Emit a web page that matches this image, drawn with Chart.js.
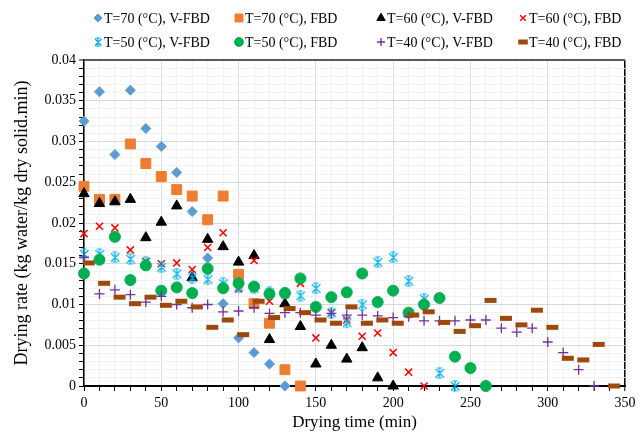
<!DOCTYPE html>
<html>
<head>
  <meta charset="UTF-8">
  <title>Drying rate</title>
  <script src="https://cdn.jsdelivr.net/npm/chart.js"></script>
  <style>
    body { margin: 0; background: #fff; }
    #wrap { width: 643px; height: 445px; position: relative; }
  </style>
</head>
<body>

  <div id="wrap"><canvas id="rateChart"></canvas></div>

  <script>
    // legend labels, in series order
    const seriesNames = [
      "T=70 (°C), V-FBD", "T=70 (°C), FBD", "T=60 (°C), V-FBD", "T=60 (°C), FBD",
      "T=50 (°C), V-FBD", "T=50 (°C), FBD", "T=40 (°C), V-FBD", "T=40 (°C), FBD"
    ];

    // drying time (min) for each series
    const time70v = [0, 10, 20, 30, 40, 50, 60, 70, 80, 90, 100, 110, 120, 130];
    const time70f = [0, 10, 20, 30, 40, 50, 60, 70, 80, 90, 100, 110, 120, 130, 140];
    const time60v = [0, 10, 20, 30, 40, 50, 60, 70, 80, 90, 100, 110, 120, 130, 140, 150, 160, 170, 180, 190, 200];
    const time60f = [0, 10, 20, 30, 40, 50, 60, 70, 80, 90, 100, 110, 120, 130, 140, 150, 160, 170, 180, 190, 200, 210, 220];
    const time50v = [0, 10, 20, 30, 40, 50, 60, 70, 80, 90, 100, 110, 120, 130, 140, 150, 160, 170, 180, 190, 200, 210, 220, 230, 240];
    const time50f = [0, 10, 20, 30, 40, 50, 60, 70, 80, 90, 100, 110, 120, 130, 140, 150, 160, 170, 180, 190, 200, 210, 220, 230, 240, 250, 260];
    const time40v = [0, 10, 20, 30, 40, 50, 60, 70, 80, 90, 100, 110, 120, 130, 140, 150, 160, 170, 180, 190, 200, 210, 220, 230, 240, 250, 260, 270, 280, 290, 300, 310, 320, 330];
    const time40f = [3, 13, 23, 33, 43, 53, 63, 73, 83, 93, 103, 113, 123, 133, 143, 153, 163, 173, 183, 193, 203, 213, 223, 233, 243, 253, 263, 273, 283, 293, 303, 313, 323, 333, 343];

    // drying rate (kg water/kg dry solid.min)
    const rate70v = [0.0325, 0.0361, 0.0284, 0.0363, 0.0316, 0.0294, 0.0262, 0.0214, 0.0157, 0.0101, 0.0059, 0.0041, 0.0027, 0];
    const rate70f = [0.0245, 0.0229, 0.0229, 0.0297, 0.0273, 0.0257, 0.0241, 0.0233, 0.0204, 0.0233, 0.0137, 0.0101, 0.0077, 0.0020, 0];
    const rate60v = [0.0236, 0.0224, 0.0226, 0.0229, 0.0182, 0.0201, 0.0221, 0.0133, 0.0180, 0.0171, 0.0152, 0.0160, 0.0057, 0.0101, 0.0073, 0.0027, 0.0050, 0.0033, 0.0047, 0.0010, 0];
    const rate60f = [0.0187, 0.0196, 0.0194, 0.0167, 0.0153, 0.0150, 0.0151, 0.0143, 0.0170, 0.0188, 0.0119, 0.0154, 0.0104, 0.0112, 0.0126, 0.0059, 0.0090, 0.0081, 0.0061, 0.0065, 0.0041, 0.0017, 0];
    const rate50v = [0.0162, 0.0162, 0.0158, 0.0156, 0.0152, 0.0146, 0.0138, 0.0133, 0.0131, 0.0126, 0.0122, 0.0120, 0.0115, 0.0114, 0.0111, 0.0120, 0.0090, 0.0078, 0.0100, 0.0152, 0.0158, 0.0129, 0.0107, 0.0016, 0];
    const rate50f = [0.0138, 0.0155, 0.0183, 0.0130, 0.0148, 0.0117, 0.0121, 0.0114, 0.0144, 0.0120, 0.0126, 0.0122, 0.0113, 0.0114, 0.0132, 0.0097, 0.0109, 0.0115, 0.0138, 0.0103, 0.0117, 0.0090, 0.0100, 0.0108, 0.0036, 0.0022, 0];
    const rate40v = [0.0158, 0.0113, 0.0118, 0.0112, 0.0103, 0.0110, 0.0100, 0.0096, 0.0100, 0.0091, 0.0092, 0.0096, 0.0089, 0.0090, 0.0090, 0.0087, 0.0089, 0.0087, 0.0087, 0.0086, 0.0084, 0.0085, 0.0080, 0.0080, 0.0080, 0.0081, 0.0081, 0.0071, 0.0066, 0.0071, 0.0054, 0.0041, 0.0020, 0];
    const rate40f = [0.0151, 0.0126, 0.0109, 0.0101, 0.0109, 0.0099, 0.0104, 0.0097, 0.0072, 0.0081, 0.0063, 0.0104, 0.0084, 0.0095, 0.0090, 0.0081, 0.0077, 0.0097, 0.0077, 0.0081, 0.0077, 0.0087, 0.0091, 0.0078, 0.0067, 0.0074, 0.0105, 0.0083, 0.0075, 0.0093, 0.0072, 0.0034, 0.0032, 0.0051, 0];

    const times = [time70v, time70f, time60v, time60f, time50v, time50f, time40v, time40f];
    const rates = [rate70v, rate70f, rate60v, rate60f, rate50v, rate50f, rate40v, rate40f];

    Chart.defaults.font.family = '"Liberation Serif", "Times New Roman", serif';
    Chart.defaults.color = '#000';

    // excel style star marker: X plus vertical bar
    function starMarker(color, size) {
      const c = document.createElement('canvas');
      c.width = size; c.height = size;
      const g = c.getContext('2d');
      const m = size / 2, e = size - 1.5;
      g.strokeStyle = color;
      g.lineWidth = 1.2;
      g.beginPath();
      g.moveTo(2, 2); g.lineTo(e, e);
      g.moveTo(e, 2); g.lineTo(2, e);
      g.moveTo(m, 0.5); g.lineTo(m, size - 0.5);
      g.moveTo(m - 2.5, 1); g.lineTo(m + 2.5, 1);
      g.moveTo(m - 2.5, size - 1); g.lineTo(m + 2.5, size - 1);
      g.stroke();
      return c;
    }

    const markers = [
      { pointStyle: 'rectRot', color: '#5B9BD5', radius: 5, border: 1 },
      { pointStyle: 'rect', color: '#ED7D31', radius: 7, border: 1 },
      { pointStyle: 'triangle', color: '#000000', radius: 6, border: 1 },
      { pointStyle: 'crossRot', color: '#FF0000', radius: 5, border: 1.5 },
      { pointStyle: starMarker('#00B0F0', 12), color: '#00B0F0', radius: 6, border: 1 },
      { pointStyle: 'circle', color: '#00B050', radius: 5.5, border: 1 },
      { pointStyle: 'cross', color: '#7030A0', radius: 5, border: 1.3 },
      { pointStyle: 'line', color: '#9E480E', radius: 6, border: 5 }
    ];
    const legendStar = starMarker('#00B0F0', 10);

    const datasets = seriesNames.map((name, i) => ({
      label: name,
      data: times[i].map((t, j) => ({ x: t, y: rates[i][j] })),
      pointStyle: markers[i].pointStyle,
      pointRadius: markers[i].radius,
      pointHoverRadius: markers[i].radius,
      pointBackgroundColor: markers[i].color,
      pointBorderColor: markers[i].color,
      pointBorderWidth: markers[i].border,
      showLine: false,
      clip: false,
      order: 8 - i
    }));

    // legend in fixed columns, two rows
    const legendCols = [98, 239, 381, 523];
    const legendRows = [18, 42];
    const fixedLegend = {
      id: 'fixedLegend',
      afterDraw(chart) {
        const ctx = chart.ctx;
        ctx.save();
        datasets.forEach((ds, i) => {
          const x = legendCols[i % 4];
          const y = legendRows[Math.floor(i / 4)];
          const m = markers[i];
          ctx.fillStyle = m.color;
          ctx.strokeStyle = m.color;
          ctx.lineWidth = m.border;
          Chart.helpers.drawPoint(ctx, {
            pointStyle: i === 4 ? legendStar : m.pointStyle,
            radius: m.radius * 0.8,
            rotation: 0,
            borderWidth: m.border
          }, x, y);
          ctx.fillStyle = '#000';
          ctx.font = '14px "Liberation Serif"';
          ctx.textBaseline = 'middle';
          ctx.textAlign = 'left';
          ctx.fillText(ds.label, x + 6, y + 1);
        });
        ctx.restore();
      }
    };

    const chartCtx = document.getElementById('rateChart').getContext('2d');
    const rateChart = new Chart(chartCtx, {
      type: 'scatter',
      data: { datasets },
      options: {
        responsive: true,
        maintainAspectRatio: false,
        animation: false,
        layout: { padding: { top: 60, right: 18, left: 0, bottom: 0 } },
        plugins: {
          legend: { display: false },
          tooltip: { enabled: false }
        },
        scales: {
          x: {
            type: 'linear',
            min: 0,
            max: 350,
            afterFit: s => { s.height = 59; },
            ticks: {
              stepSize: 10,
              autoSkip: false,
              maxRotation: 0,
              padding: 4,
              font: { size: 14 },
              callback: v => (v % 50 === 0 ? String(v) : '')
            },
            grid: {
              color: c => (c.tick.value === 350 ? '#000' : c.tick.value % 50 === 0 ? '#D9D9D9' : '#F2F2F2'),
              lineWidth: c => (c.tick.value === 350 ? 1.5 : 1),
              tickColor: '#000',
              tickLength: 5,
              tickWidth: 1
            },
            border: { color: '#000', width: 2 },
            title: {
              display: true,
              text: 'Drying time (min)',
              font: { size: 17 },
              padding: { top: 0, bottom: 12 }
            }
          },
          y: {
            min: 0,
            max: 0.04,
            afterFit: s => { s.width = 84; },
            ticks: {
              stepSize: 0.001,
              autoSkip: false,
              padding: 3,
              font: { size: 14 },
              callback: v => {
                const k = Math.round(v * 1000);
                return k % 5 === 0 ? String(k / 1000) : '';
              }
            },
            grid: {
              color: c => {
                const k = Math.round(c.tick.value * 1000);
                if (k === 40) return '#595959';
                return k % 5 === 0 ? '#D9D9D9' : '#F2F2F2';
              },
              lineWidth: c => (Math.round(c.tick.value * 1000) === 40 ? 2 : 1),
              tickColor: '#000',
              tickLength: 5,
              tickWidth: 1
            },
            border: { color: '#000', width: 1.5 },
            title: {
              display: true,
              text: 'Drying rate (kg water/kg dry solid.min)',
              font: { size: 18 },
              padding: { top: 11, bottom: 0 }
            }
          }
        }
      },
      plugins: [fixedLegend]
    });
  </script>

</body>
</html>
